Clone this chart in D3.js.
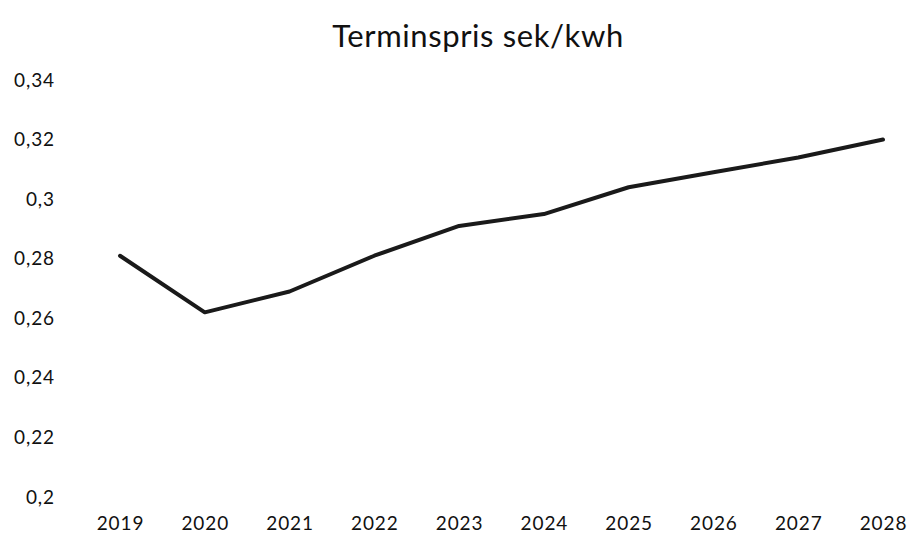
<!DOCTYPE html>
<html>
<head>
<meta charset="utf-8">
<script src="https://cdn.jsdelivr.net/npm/d3@7"></script>
<style>
  body { margin: 0; background: #fff; }
  text { font-family: Lato, "Open Sans", sans-serif; fill: #111; }
</style>
</head>
<body>
<svg id="chart" width="911" height="539"></svg>
<script>
var years = ['2019', '2020', '2021', '2022', '2023', '2024', '2025', '2026', '2027', '2028'];
var prices = [0.281, 0.262, 0.269, 0.281, 0.291, 0.295, 0.304, 0.309, 0.314, 0.320];
var yTicks = [0.2, 0.22, 0.24, 0.26, 0.28, 0.3, 0.32, 0.34];
var title = 'Terminspris sek/kwh';

var svg = d3.select('#chart');

var x = d3.scalePoint().domain(years).range([120, 883]);
var y = d3.scaleLinear().domain([0.2, 0.34]).range([497, 80]);

var fmt = function (d) { return String(+d.toFixed(2)).replace('.', ','); };

function styleLabels(sel) {
  sel.selectAll('text')
    .style('font-size', '19px')
    .style('font-family', 'Lato, sans-serif')
    .style('letter-spacing', '0.9px')
    .attr('fill', '#1a1a1a');
}

// y axis: labels only
var yAxis = svg.append('g')
  .attr('transform', 'translate(55,0)')
  .call(d3.axisLeft(y).tickValues(yTicks).tickFormat(fmt).tickSize(0).tickPadding(0));
yAxis.select('.domain').remove();
styleLabels(yAxis);

// x axis: labels only
var xAxis = svg.append('g')
  .attr('transform', 'translate(0,516)')
  .call(d3.axisBottom(x).tickSize(0).tickPadding(0));
xAxis.select('.domain').remove();
styleLabels(xAxis);

var line = d3.line()
  .x(function (d, i) { return x(years[i]); })
  .y(function (d) { return y(d); });

svg.append('path')
  .datum(prices)
  .attr('d', line)
  .attr('fill', 'none')
  .attr('stroke', '#1a1a1a')
  .attr('stroke-width', 4)
  .attr('stroke-linejoin', 'round')
  .attr('stroke-linecap', 'round');

svg.append('text')
  .attr('x', 478)
  .attr('y', 47)
  .attr('text-anchor', 'middle')
  .style('font-size', '31px')
  .style('letter-spacing', '0.6px')
  .attr('fill', '#111')
  .text(title);
</script>
</body>
</html>
